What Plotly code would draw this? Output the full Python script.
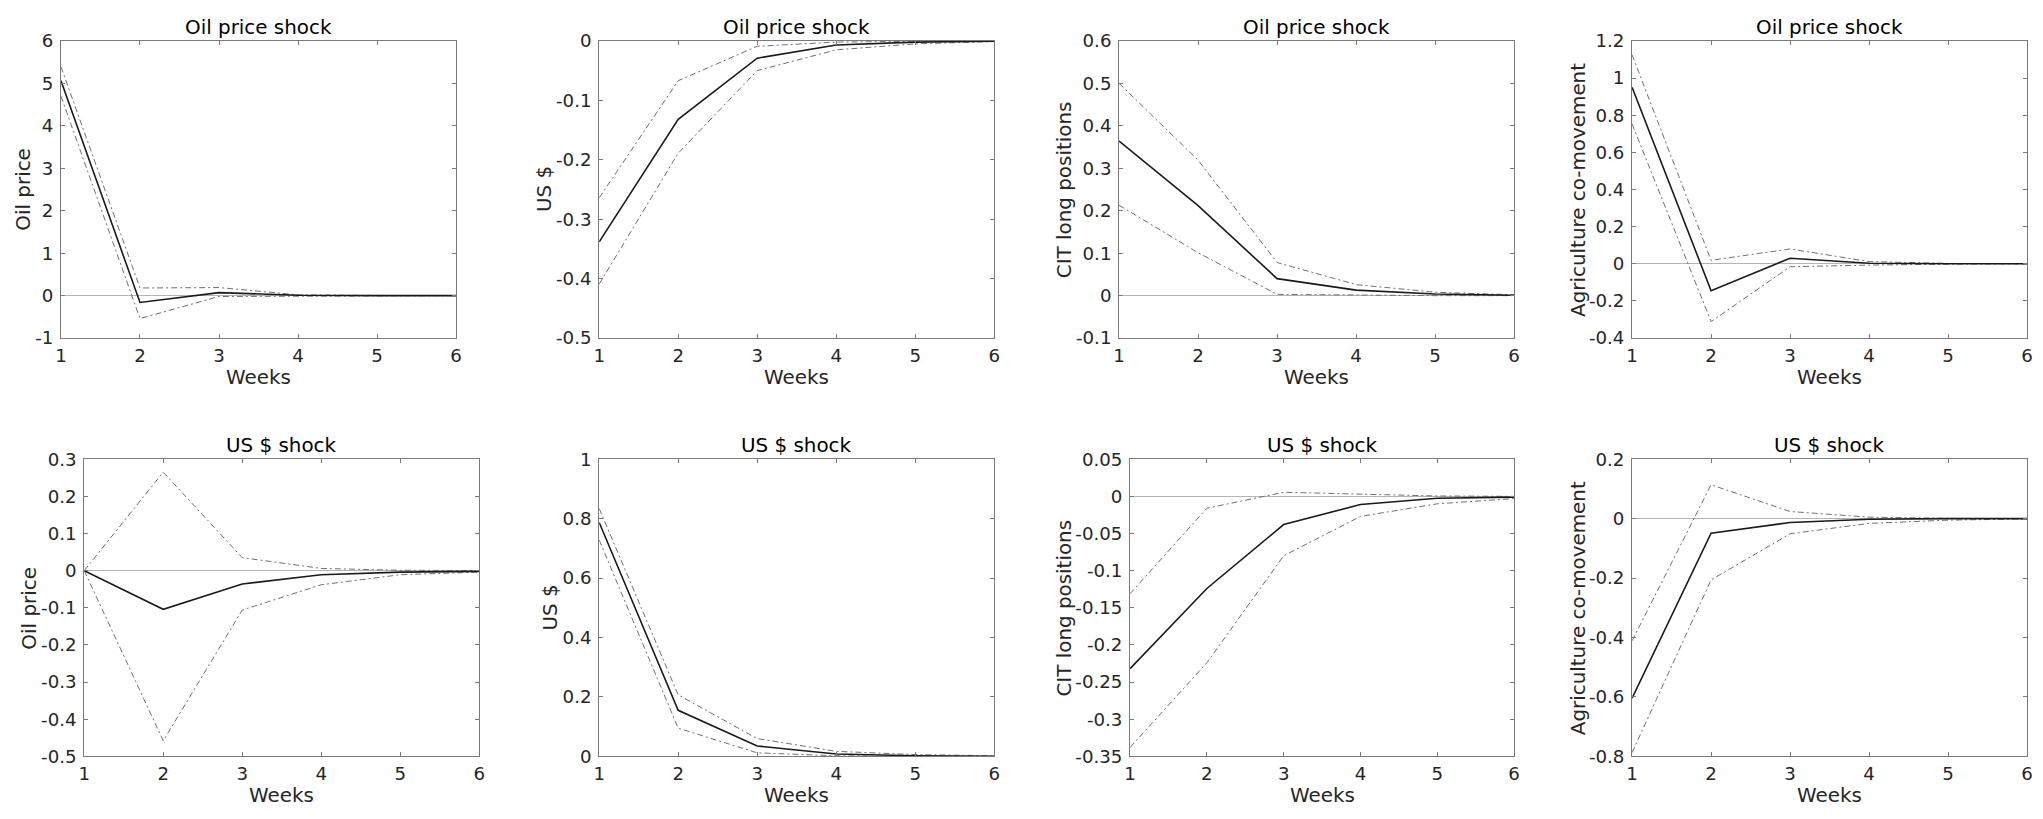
import plotly.graph_objects as go

W, H = 2043, 819

weeks = [1, 2, 3, 4, 5, 6]
x_ticks = [1, 2, 3, 4, 5, 6]

panel_titles = ["Oil price shock"] * 4 + ["US $ shock"] * 4
y_labels = ["Oil price", "US $", "CIT long positions", "Agriculture co-movement"] * 2

# Oil price shock responses
oil_oil_mid = [5.06, -0.16, 0.07, 0.01, 0.0, 0.0]
oil_oil_up = [5.39, 0.18, 0.19, 0.02, 0.005, 0.0]
oil_oil_lo = [4.70, -0.54, -0.02, -0.01, 0.0, 0.0]

oil_usd_mid = [-0.338, -0.132, -0.029, -0.007, -0.002, -0.0005]
oil_usd_up = [-0.264, -0.067, -0.009, -0.002, -0.0005, 0.0]
oil_usd_lo = [-0.409, -0.189, -0.050, -0.015, -0.005, -0.001]

oil_cit_mid = [0.364, 0.212, 0.040, 0.013, 0.004, 0.001]
oil_cit_up = [0.500, 0.319, 0.078, 0.026, 0.008, 0.002]
oil_cit_lo = [0.213, 0.101, 0.003, 0.001, 0.0, 0.0]

oil_agr_mid = [0.950, -0.145, 0.030, 0.003, 0.0, 0.0]
oil_agr_up = [1.125, 0.019, 0.080, 0.012, 0.002, 0.0]
oil_agr_lo = [0.753, -0.311, -0.016, -0.007, -0.002, 0.0]

# US $ shock responses
usd_oil_mid = [0.0, -0.104, -0.036, -0.011, -0.004, -0.002]
usd_oil_up = [0.0, 0.265, 0.035, 0.006, 0.001, 0.0]
usd_oil_lo = [0.0, -0.458, -0.106, -0.038, -0.011, -0.004]

usd_usd_mid = [0.787, 0.155, 0.035, 0.008, 0.002, 0.0005]
usd_usd_up = [0.834, 0.207, 0.060, 0.017, 0.006, 0.002]
usd_usd_lo = [0.728, 0.095, 0.012, 0.002, 0.0, 0.0]

usd_cit_mid = [-0.232, -0.124, -0.038, -0.011, -0.0025, -0.001]
usd_cit_up = [-0.131, -0.016, 0.0055, 0.0025, 0.0005, 0.0]
usd_cit_lo = [-0.338, -0.224, -0.080, -0.027, -0.010, -0.003]

usd_agr_mid = [-0.604, -0.049, -0.013, -0.002, 0.0, 0.0]
usd_agr_up = [-0.411, 0.114, 0.024, 0.005, 0.001, 0.0]
usd_agr_lo = [-0.787, -0.206, -0.051, -0.016, -0.005, -0.001]

# y tick values per panel
yt_oil_oil = [-1, 0, 1, 2, 3, 4, 5, 6]
yt_oil_usd = [-0.5, -0.4, -0.3, -0.2, -0.1, 0]
yt_oil_cit = [-0.1, 0, 0.1, 0.2, 0.3, 0.4, 0.5, 0.6]
yt_oil_agr = [-0.4, -0.2, 0, 0.2, 0.4, 0.6, 0.8, 1, 1.2]
yt_usd_oil = [-0.5, -0.4, -0.3, -0.2, -0.1, 0, 0.1, 0.2, 0.3]
yt_usd_usd = [0, 0.2, 0.4, 0.6, 0.8, 1]
yt_usd_cit = [-0.35, -0.3, -0.25, -0.2, -0.15, -0.1, -0.05, 0, 0.05]
yt_usd_agr = [-0.8, -0.6, -0.4, -0.2, 0, 0.2]

series = [
    (oil_oil_mid, oil_oil_up, oil_oil_lo, yt_oil_oil),
    (oil_usd_mid, oil_usd_up, oil_usd_lo, yt_oil_usd),
    (oil_cit_mid, oil_cit_up, oil_cit_lo, yt_oil_cit),
    (oil_agr_mid, oil_agr_up, oil_agr_lo, yt_oil_agr),
    (usd_oil_mid, usd_oil_up, usd_oil_lo, yt_usd_oil),
    (usd_usd_mid, usd_usd_up, usd_usd_lo, yt_usd_usd),
    (usd_cit_mid, usd_cit_up, usd_cit_lo, yt_usd_cit),
    (usd_agr_mid, usd_agr_up, usd_agr_lo, yt_usd_agr),
]

# plot-area geometry in pixels (left, right, top, bottom)
boxes = [
    (55.3, 452.7, 30.7, 335.7),
    (596.7, 994.0, 30.7, 335.7),
    (1119.7, 1517.0, 30.7, 335.7),
    (1635.7, 2033.0, 30.7, 335.7),
    (78.7, 476.0, 460.0, 765.0),
    (596.7, 994.0, 460.0, 765.0),
    (1130.7, 1517.0, 460.0, 765.0),
    (1635.7, 2033.0, 460.0, 765.0),
]
ylabel_x = [17.3, 541.7, 1065.0, 1581.7, 24.0, 548.0, 1065.0, 1581.7]

FONT = "DejaVu Sans"
AXC = "#7a7a7a"
TXT = "#262626"
TICK_SIZE = 18.2
LABEL_SIZE = 19.9

def fmt(v):
    return f"{v:g}"

fig = go.Figure()
layout = dict(
    width=W, height=H, autosize=False,
    margin=dict(l=0, r=0, t=0, b=0),
    paper_bgcolor="white", plot_bgcolor="white",
    showlegend=False,
    font=dict(family=FONT, color=TXT, size=TICK_SIZE),
)
annotations = []

for i, ((mid, up, lo, yt), (l, r, t, b)) in enumerate(zip(series, boxes)):
    n = i + 1
    xa = "x" if n == 1 else f"x{n}"
    ya = "y" if n == 1 else f"y{n}"
    for vals, col, wd, dash in ((up, "#707070", 1, "6px,3px,2px,3px"),
                                (lo, "#707070", 1, "6px,3px,2px,3px"),
                                (mid, "#1a1a1a", 1.6, "solid")):
        fig.add_trace(go.Scatter(x=weeks, y=vals, mode="lines", xaxis=xa, yaxis=ya,
                                 line=dict(color=col, width=wd, dash=dash),
                                 hoverinfo="skip"))
    xkey = "xaxis" if n == 1 else f"xaxis{n}"
    ykey = "yaxis" if n == 1 else f"yaxis{n}"
    layout[xkey] = dict(
        domain=[l / W, r / W], anchor=ya, range=[1, 6],
        tickvals=x_ticks, ticktext=[fmt(v) for v in x_ticks],
        ticks="inside", ticklen=4, tickcolor=AXC, tickwidth=1,
        showline=True, linecolor=AXC, linewidth=1, mirror="ticks",
        showgrid=False, zeroline=False,
        tickfont=dict(family=FONT, size=TICK_SIZE, color=TXT),
        ticklabelstandoff=1,
    )
    layout[ykey] = dict(
        domain=[1 - b / H, 1 - t / H], anchor=xa,
        range=[yt[0], yt[-1]],
        tickvals=yt, ticktext=[fmt(v) for v in yt],
        ticks="inside", ticklen=4, tickcolor=AXC, tickwidth=1,
        showline=True, linecolor=AXC, linewidth=1, mirror="ticks",
        showgrid=False, zeroline=True, zerolinecolor="#b4b4b4", zerolinewidth=1,
        tickfont=dict(family=FONT, size=TICK_SIZE, color=TXT),
        ticklabelstandoff=3,
    )
    cx = (l + r) / 2
    cy = (t + b) / 2
    annotations.append(dict(text=panel_titles[i], x=cx / W, y=1 - (t - 14) / H,
                            xref="paper", yref="paper", xanchor="center", yanchor="middle",
                            showarrow=False, font=dict(family=FONT, size=LABEL_SIZE, color="black")))
    annotations.append(dict(text="Weeks", x=cx / W, y=1 - (b + 40) / H,
                            xref="paper", yref="paper", xanchor="center", yanchor="middle",
                            showarrow=False, font=dict(family=FONT, size=LABEL_SIZE, color=TXT)))
    annotations.append(dict(text=y_labels[i], x=ylabel_x[i] / W, y=1 - cy / H,
                            xref="paper", yref="paper", xanchor="center", yanchor="middle",
                            textangle=-90,
                            showarrow=False, font=dict(family=FONT, size=LABEL_SIZE, color=TXT)))

layout["annotations"] = annotations
fig.update_layout(**layout)
fig.write_html("out.html")
